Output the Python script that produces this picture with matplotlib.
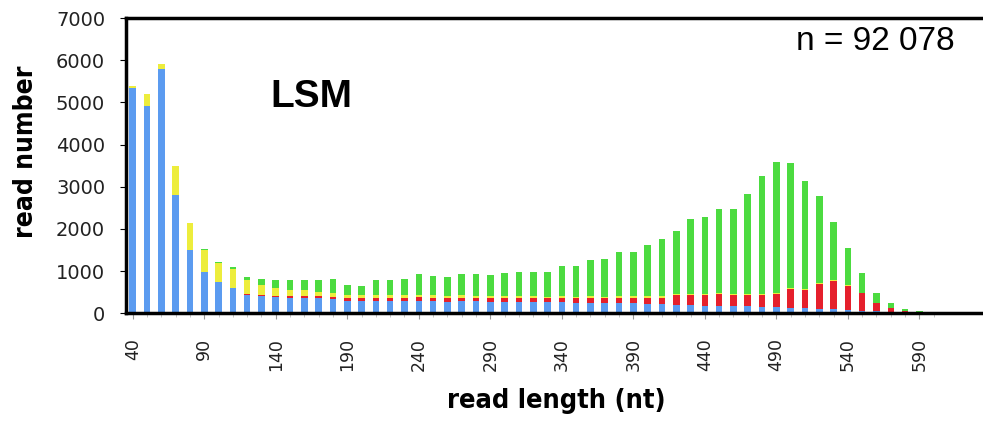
import matplotlib
matplotlib.use("Agg")
import matplotlib.pyplot as plt
import numpy as np

# read length categories (nt)
lengths = list(range(40, 610, 10))

blue = [5330, 4920, 5780, 2800, 1490, 970, 740, 590, 440, 410,
        380, 370, 360, 350, 330, 290, 280, 300, 290, 290,
        300, 290, 270, 290, 280, 270, 270, 270, 270, 260,
        260, 250, 250, 240, 240, 230, 220, 210, 200, 190,
        180, 180, 170, 160, 150, 140, 130, 120, 110, 100,
        80, 60, 40, 30, 20, 10, 5]
red = [0, 0, 0, 0, 0, 0, 0, 10, 20, 20,
       30, 30, 40, 50, 60, 60, 70, 70, 70, 70,
       80, 80, 80, 80, 80, 80, 80, 90, 90, 90,
       100, 100, 110, 110, 120, 130, 150, 160, 220, 230,
       240, 270, 250, 260, 270, 320, 440, 430, 590, 660,
       560, 410, 200, 90, 40, 15, 5]
yellow = [50, 280, 120, 700, 640, 540, 460, 450, 320, 240,
          190, 160, 140, 110, 100, 70, 70, 70, 70, 60,
          60, 60, 60, 60, 50, 50, 50, 50, 50, 40,
          40, 40, 40, 40, 40, 40, 40, 30, 30, 30,
          30, 30, 30, 30, 30, 30, 20, 20, 20, 20,
          20, 10, 10, 10, 0, 0, 0]
green = [0, 0, 0, 0, 0, 20, 20, 40, 80, 150,
         190, 220, 250, 270, 310, 240, 220, 350, 360, 380,
         480, 460, 450, 500, 520, 500, 550, 570, 570, 590,
         710, 730, 870, 900, 1050, 1050, 1210, 1370, 1510, 1790,
         1830, 1980, 2010, 2380, 2810, 3090, 2960, 2570, 2070, 1380,
         880, 480, 220, 110, 50, 15, 10]

xtick_labels = list(range(40, 600, 50))
yticks = list(range(0, 8000, 1000))

c_blue = "#5B9BF0"
c_red = "#E5202C"
c_yellow = "#EDED3C"
c_green = "#4CDB40"

fig = plt.figure(figsize=(9.83, 4.29), dpi=100)
ax = fig.add_axes([0.1282, 0.270, 0.872, 0.688])

x = np.array(lengths)
b = np.array(blue)
r = np.array(red)
yv = np.array(yellow)
g = np.array(green)
w = 4.6
ax.bar(x, b, width=w, color=c_blue, linewidth=0)
ax.bar(x, r, width=w, bottom=b, color=c_red, linewidth=0)
ax.bar(x, yv, width=w, bottom=b + r, color=c_yellow, linewidth=0)
ax.bar(x, g, width=w, bottom=b + r + yv, color=c_green, linewidth=0)

ax.set_xlim(35.3, 634.6)
ax.set_ylim(0, 7000)
ax.set_yticks(yticks)
ax.set_yticklabels([str(v) for v in yticks], fontsize=14, family="DejaVu Sans", color="#222222")
ax.set_xticks(xtick_labels)
ax.set_xticklabels([str(v) for v in xtick_labels], rotation=90, fontsize=12.5,
                   family="DejaVu Sans", color="#222222")
ax.set_xticks(lengths, minor=True)
ax.tick_params(axis="x", which="major", length=4, pad=14, color="#999999")
ax.tick_params(axis="x", which="minor", length=3, color="#bbbbbb")
ax.tick_params(axis="y", which="major", length=4, pad=11)

for s in ["top", "bottom", "left"]:
    ax.spines[s].set_linewidth(2.5)
    ax.spines[s].set_color("black")
ax.spines["right"].set_visible(False)

ax.set_ylabel("read number", fontsize=19, fontweight="bold", family="DejaVu Sans",
              fontstretch="condensed")
ax.yaxis.set_label_coords(-0.101, 0.547)
ax.set_xlabel("read length (nt)", fontsize=19.5, fontweight="bold", family="DejaVu Sans",
              fontstretch="condensed")
ax.xaxis.set_label_coords(0.502, -0.254)

fig.text(270 / 983, 1 - 97 / 429, "LSM", fontsize=28, fontweight="bold",
         family="Liberation Sans", ha="left", va="center")
fig.text(955 / 983, 1 - 42 / 429, "n = 92 078", fontsize=24,
         family="Liberation Sans", ha="right", va="center")

fig.savefig("out.png", dpi=100)
